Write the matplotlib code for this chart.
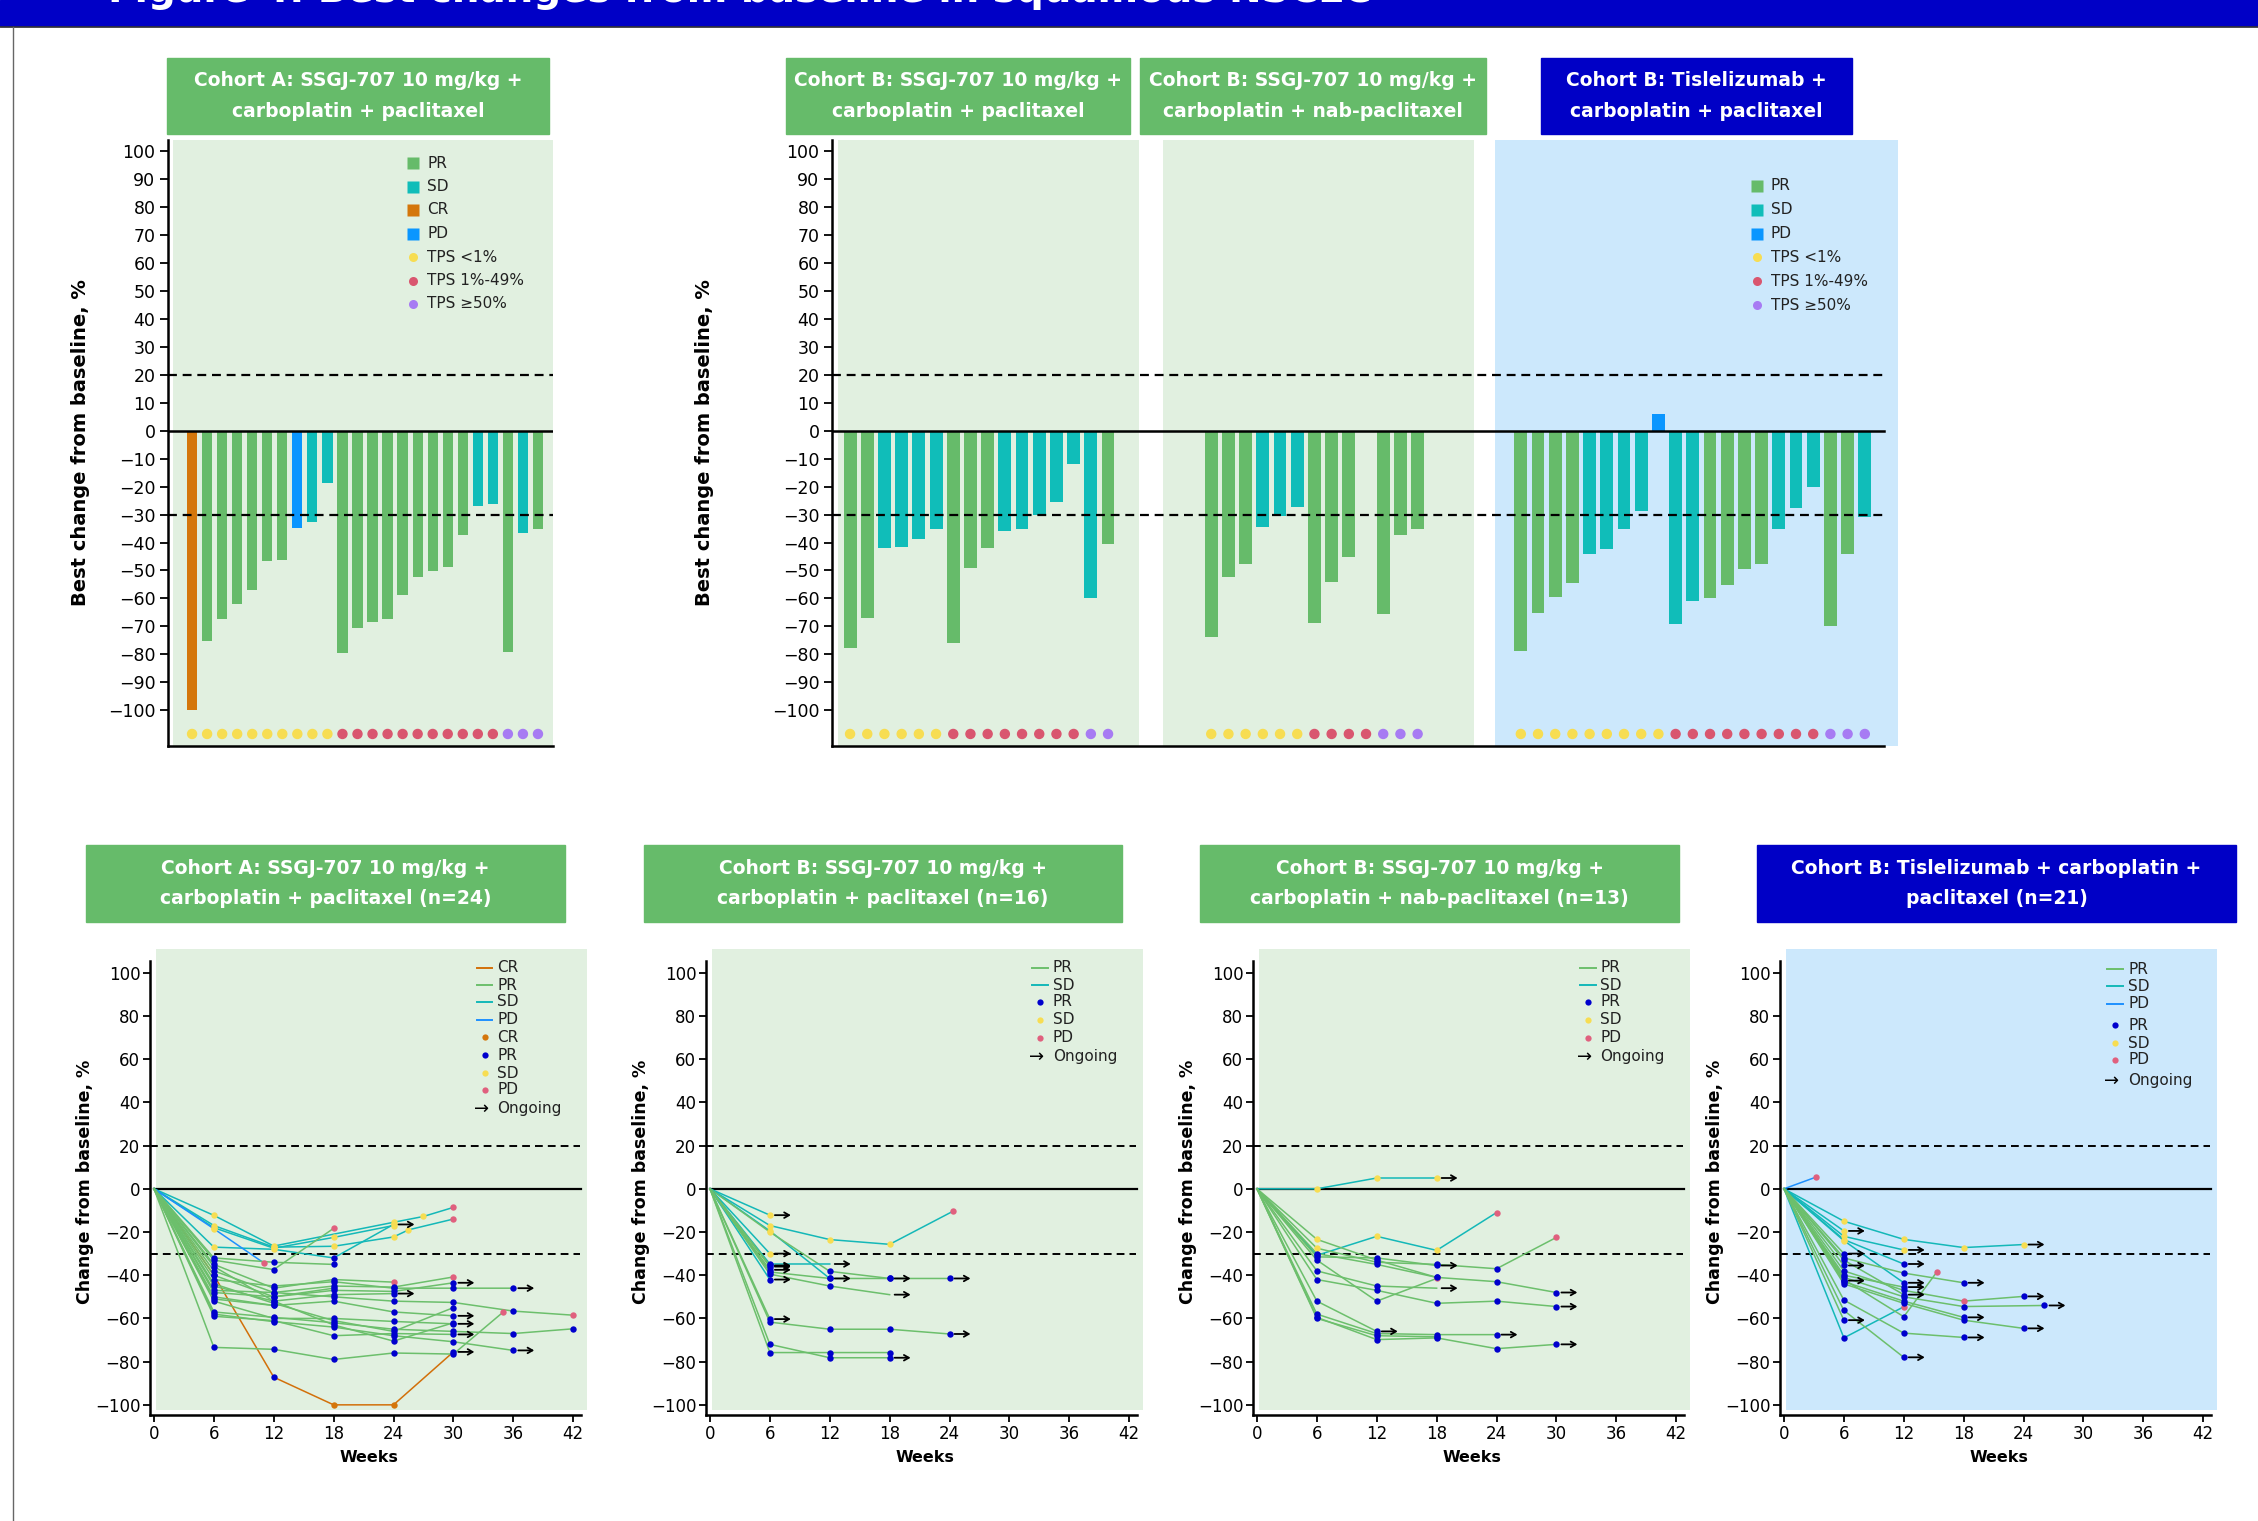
import numpy as np
import matplotlib
matplotlib.use("Agg")
import matplotlib.pyplot as plt
from matplotlib.patches import Rectangle
from matplotlib.lines import Line2D

# ---------------- data ----------------
# waterfall, cohort A
a_resp = ["CR", "PR", "PR", "PR", "PR", "PR", "PR", "PD", "SD", "SD", "PR", "PR",
          "PR", "PR", "PR", "PR", "PR", "PR", "PR", "SD", "SD", "PR", "SD", "PR"]
a_vals = [-100, -75.2, -67.4, -62, -56.8, -46.6, -46.2, -34.7, -32.6, -18.6, -79.5, -70.7,
          -68.5, -67.4, -58.7, -52.3, -50.1, -48.8, -37.3, -26.9, -26.4, -79.2, -36.5, -35.2]
a_tps = ["<1"] * 10 + ["1-49"] * 11 + [">=50"] * 3

# waterfall, cohort B SSGJ-707 + carboplatin + paclitaxel
bp_resp = ["PR", "PR", "SD", "SD", "SD", "SD", "PR", "PR", "PR", "SD", "SD", "SD",
           "SD", "SD", "SD", "PR"]
bp_vals = [-77.8, -67.1, -41.8, -41.5, -38.6, -35.1, -75.8, -49, -41.8, -36, -35.1, -30,
           -25.7, -12.1, -60, -40.7]
bp_tps = ["<1"] * 6 + ["1-49"] * 8 + [">=50"] * 2

# waterfall, cohort B SSGJ-707 + carboplatin + nab-paclitaxel (10th patient: no bar)
bn_resp = ["PR", "PR", "PR", "SD", "SD", "SD", "PR", "PR", "PR", "", "PR", "PR", "PR"]
bn_vals = [-73.8, -52.2, -47.8, -34.3, -30.6, -27.4, -68.6, -54.2, -45.3, np.nan,
           -65.6, -37.2, -35.1]
bn_tps = ["<1"] * 6 + ["1-49"] * 4 + [">=50"] * 3

# waterfall, cohort B tislelizumab + carboplatin + paclitaxel
t_resp = ["PR", "PR", "PR", "PR", "SD", "SD", "SD", "SD", "PD", "SD", "SD", "PR",
          "PR", "PR", "PR", "SD", "SD", "SD", "PR", "PR", "SD"]
t_vals = [-78.7, -65.3, -59.5, -54.5, -44, -42.3, -35, -28.9, 6, -69, -61, -60,
          -55.2, -49.5, -47.6, -35, -27.7, -20.2, -69.7, -44, -31]
t_tps = ["<1"] * 9 + ["1-49"] * 9 + [">=50"] * 3

# spider data: (best response, weeks, % change, assessment per point, ongoing)
# assessment codes: P=PR, S=SD, D=PD, C=CR, -=no marker
spider_a = [
    ("SD", [6, 12, 24, 27, 30], [-12.3, -26.5, -15.5, -12.8, -8.6], "SSSSD", False),
    ("SD", [6, 12, 18, 24, 25.5, 30], [-17, -27, -26.6, -22.3, -19, -14], "SSSSSD", False),
    ("SD", [6, 12, 18, 24], [-27, -28, -32, -16.5], "SSPS", True),
    ("SD", [6, 12, 18, 24], [-18, -27.5, -22.5, -17], "SSSS", False),
    ("PD", [6, 11], [-18.5, -34.3], "SD", False),
    ("CR", [6, 12, 18, 24, 30], [-40, -87.2, -100, -100, -75.5], "PPCCP", True),
    ("PR", [6, 12, 18, 24, 30, 35], [-73.4, -74.3, -79, -76, -76.5, -57], "PPPPPD", False),
    ("PR", [6, 12, 18], [-33, -37.4, -18.3], "PPD", False),
    ("PR", [6, 12, 18], [-32, -34, -35], "PPP", False),
    ("PR", [6, 12, 18, 24], [-35, -46, -42, -43.2], "PPPD", False),
    ("PR", [6, 12, 18, 24, 30], [-38, -48, -45, -45.5, -40.8], "PPPPD", False),
    ("PR", [6, 12, 18, 24, 30], [-40, -50, -47, -47.5, -43.5], "PPPPP", True),
    ("PR", [6, 12, 18, 24, 30, 36], [-42, -45, -43, -46, -46, -46], "PPPPPP", True),
    ("PR", [6, 12, 18, 24], [-45, -52, -49, -48.5], "PPPP", True),
    ("PR", [6, 12, 18, 24, 30, 36, 42], [-47, -48, -50, -52, -52.6, -56.6, -58.5], "PPPPPPD", False),
    ("PR", [6, 12, 18, 24, 30], [-50, -54, -52, -57, -58.8], "PPPPP", True),
    ("PR", [6, 12, 18, 24, 30], [-52, -60, -60, -61.4, -62.5], "PPPPP", True),
    ("PR", [6, 12, 18, 24, 30, 36, 42], [-57, -59.5, -62, -65, -66, -67, -64.8], "PPPPPPP", True),
    ("PR", [6, 12, 18, 24, 30, 36], [-58, -61.5, -64, -68, -70.8, -74.8], "PPPPPP", True),
    ("PR", [6, 12, 18, 24, 30], [-59, -61, -68, -67, -67.4], "PPPPP", True),
    ("PR", [6, 12, 18, 24, 30], [-36, -52, -63, -70.5, -62], "PPPPP", False),
    ("PR", [6, 12, 18, 24, 30], [-44, -53, -61, -66, -55], "PPPPP", False),
    ("PR", [6, 12, 18], [-48, -50, -46], "PPP", False),
    ("PR", [6, 12], [-51, -54], "PP", False),
]

spider_bp = [
    ("SD", [6], [-12.2], "S", True),
    ("SD", [6, 12, 18, 24.3], [-17, -23.5, -25.7, -10.5], "SSSD", False),
    ("SD", [6, 12], [-19.5, -41.5], "SP", True),
    ("PR", [6, 12, 18], [-20, -38.2, -41.5], "SPP", True),
    ("SD", [6], [-30], "S", True),
    ("SD", [6, 12], [-34.8, -34.8], "P-", True),
    ("PR", [6], [-36], "P", True),
    ("PR", [6], [-37.5], "P", True),
    ("SD", [6], [-42], "P", True),
    ("PR", [6, 12, 18, 24], [-38.5, -41.5, -41.5, -41.5], "PPPP", True),
    ("PR", [6, 12, 18], [-39.5, -45, -49], "PP-", True),
    ("PR", [6], [-60.3], "P", True),
    ("PR", [6, 12, 18, 24], [-61.7, -65, -65, -67.2], "PPPP", True),
    ("PR", [6, 12, 18], [-72, -78.2, -78.2], "PPP", True),
    ("PR", [6, 12, 18], [-75.8, -75.8, -75.8], "PPP", False),
    ("PR", [6], [-35.5], "P", True),
]

spider_bn = [
    ("SD", [6, 12, 18], [0, 5, 5], "SSS", True),
    ("SD", [6, 12, 18, 24], [-30.8, -22, -28.5, -11], "PSSD", False),
    ("PR", [6, 12, 18], [-23.4, -33, -41], "SPP", False),
    ("PR", [6, 12, 18, 24, 30], [-27.5, -34, -35, -37, -22.5], "SPPPD", False),
    ("PR", [6, 12, 18], [-31.5, -32, -35.5], "PPP", True),
    ("PR", [6, 12, 18], [-33, -52, -41.5], "PPD", False),
    ("PR", [6, 12, 18], [-38, -45, -46], "PP-", True),
    ("PR", [6, 12, 18, 24, 30], [-42, -47, -53, -52, -54.5], "PPPPP", True),
    ("PR", [6, 12, 18, 24, 30], [-30, -35, -41, -43, -48], "PPPPP", True),
    ("PR", [6, 12], [-52, -66], "PP", True),
    ("PR", [6, 12, 18, 24], [-58, -67, -67.5, -67.5], "PPPP", True),
    ("PR", [6, 12, 18, 24, 30], [-59.5, -69.8, -69, -74, -72], "PPPPP", True),
    ("PR", [6, 12, 18], [-60, -68, -68.5], "PPP", False),
]

spider_t = [
    ("PD", [3.2], [5.4], "D", False),
    ("SD", [6, 12, 18, 24], [-15, -23.4, -27.2, -25.8], "SSSS", True),
    ("SD", [6], [-19.5], "S", True),
    ("SD", [6, 12], [-22, -28.3], "SS", True),
    ("SD", [6, 12], [-23.5, -34.8], "SP", True),
    ("SD", [6, 12], [-69, -54.6], "PD", False),
    ("SD", [6, 12], [-24, -43.5], "SP", True),
    ("PR", [6], [-30], "P", True),
    ("PR", [6, 12, 18], [-32, -39, -43.5], "PPP", True),
    ("PR", [6], [-35.5], "P", True),
    ("PR", [6, 12, 18, 24], [-38, -47, -52, -49.8], "PPDP", True),
    ("PR", [6], [-42.5], "P", True),
    ("PR", [6, 12], [-40, -45.5], "PP", True),
    ("PR", [6, 12, 18, 26.1], [-41, -50, -54.5, -54], "PPPP", True),
    ("PR", [6, 12, 18], [-43, -52, -59.5], "PPP", True),
    ("PR", [6, 12, 18, 24], [-44, -53, -60.8, -64.6], "PPPP", True),
    ("PR", [6, 12, 18], [-51.5, -66.8, -68.8], "PPP", True),
    ("PR", [6, 12], [-56.3, -78], "PP", True),
    ("PR", [6], [-60.8], "P", True),
    ("PR", [6, 12, 15.3], [-42, -59.2, -38.6], "PPD", False),
    ("PR", [6, 12], [-33, -49], "PP", True),
]

# ---------------- style ----------------
bar_col = {"PR": "#66BB6A", "SD": "#10BDB9", "PD": "#0A96FF", "CR": "#D4760B"}
tps_col = {"<1": "#F7DD52", "1-49": "#D9566F", ">=50": "#A77BF3"}
line_col = {"PR": "#6CBF6C", "SD": "#14B8B8", "PD": "#1E90FF", "CR": "#D2700A"}
dot_col = {"P": "#0000CD", "S": "#F7DD52", "D": "#E0607E", "C": "#D4760B"}
GREEN = "#66BB6A"
NAVY = "#0000C6"
BG_G = "#E1F0E0"
BG_B = "#CCE8FC"

W, H = 2258, 1521
fig = plt.figure(figsize=(W / 100, H / 100), dpi=100)
fig.patch.set_facecolor("white")


def fx(px):
    return px / W


def fy(py):
    return 1 - py / H


def add_ax(l, t, r, b):
    return fig.add_axes([fx(l), fy(b), (r - l) / W, (b - t) / H])


def header(l, t, r, b, text, color, fs, family="DejaVu Sans", ls=1.75):
    fig.add_artist(Rectangle((fx(l), fy(b)), (r - l) / W, (b - t) / H,
                             transform=fig.transFigure, color=color, zorder=1))
    fig.text(fx((l + r) / 2), fy((t + b) / 2), text, ha="center", va="center",
             color="white", fontsize=fs, fontweight="bold", family=family,
             linespacing=ls, zorder=2)


def legend_top(items, x_mark, x_text, y0, dy, fs=11):
    for i, (kind, color, label) in enumerate(items):
        y = y0 + i * dy
        m = "s" if kind == "sq" else "o"
        fig.add_artist(Line2D([fx(x_mark)], [fy(y)], marker=m, ms=8 if m == "s" else 6.5,
                              color=color, mec="none", ls="", transform=fig.transFigure))
        fig.text(fx(x_text), fy(y), label, fontsize=fs, va="center", ha="left", color="#222222")


def legend_spider(items, x1, x2, x_text, ys, fs=11):
    for (kind, color, label), y in zip(items, ys):
        if kind == "line":
            fig.add_artist(Line2D([fx(x1), fx(x2)], [fy(y), fy(y)], color=color, lw=1.4,
                                  transform=fig.transFigure))
        elif kind == "dot":
            fig.add_artist(Line2D([fx((x1 + x2) / 2)], [fy(y)], marker="o", ms=4.5, color=color,
                                  mec="none", ls="", transform=fig.transFigure))
        else:
            fig.text(fx(x1 - 3), fy(y), "\u2192", fontsize=fs + 2, va="center", ha="left",
                     color="black")
        fig.text(fx(x_text), fy(y), label, fontsize=fs, va="center", ha="left", color="#222222")


# ---------------- banner ----------------
fig.add_artist(Rectangle((0, fy(26)), 1, 26 / H, transform=fig.transFigure, color=NAVY, zorder=1))
fig.add_artist(Line2D([0, 1], [fy(26.5), fy(26.5)], color="#333333", lw=1.2, transform=fig.transFigure))
fig.add_artist(Line2D([fx(13), fx(13)], [fy(27), 0], color="#666666", lw=1.0, transform=fig.transFigure))
fig.text(fx(108), fy(2), "Figure 4. Best changes from baseline in squamous NSCLC", color="white",
         fontsize=28, fontweight="bold", va="baseline", ha="left", zorder=3)

# ---------------- waterfall panels ----------------
YMIN_T, YMAX_T, DOT_Y = -112.7, 103.8, -108.4


def style_top(ax, xl, xr, line_end):
    ax.set_facecolor("none")
    ax.set_xlim(xl, xr)
    ax.set_ylim(YMIN_T, YMAX_T)
    for s in ["top", "right"]:
        ax.spines[s].set_visible(False)
    ax.spines["left"].set_linewidth(1.8)
    ax.spines["bottom"].set_linewidth(1.8)
    ax.spines["bottom"].set_bounds(xl, line_end)
    ax.set_xticks([])
    ax.set_yticks(np.arange(-100, 101, 10))
    ax.tick_params(axis="y", length=6, width=1.3, labelsize=12.5, pad=3)
    ax.plot([xl, line_end], [0, 0], color="black", lw=1.8, zorder=3)
    for yv in (20, -30):
        ax.plot([xl, line_end], [yv, yv], color="black", lw=1.6, ls=(0, (4, 2.6)), zorder=3)


# cohort A
axA = add_ax(168, 140, 553, 746)
xa = np.arange(len(a_vals))
style_top(axA, -1.6, 24.0, 24.0)
axA.axvspan(-1.26, 24.0, color=BG_G, zorder=0, lw=0)
axA.bar(xa, a_vals, width=0.68, color=[bar_col[r] for r in a_resp], zorder=2)
axA.scatter(xa, [DOT_Y] * len(xa), s=42, c=[tps_col[t] for t in a_tps], zorder=4, clip_on=False)
axA.set_ylabel("Best change from baseline, %", fontsize=14, fontweight="bold")
axA.yaxis.set_label_coords((90 - 168) / 385, 0.5)

legend_top([("sq", bar_col["PR"], "PR"), ("sq", bar_col["SD"], "SD"), ("sq", bar_col["CR"], "CR"),
            ("sq", bar_col["PD"], "PD"), ("o", tps_col["<1"], "TPS <1%"),
            ("o", tps_col["1-49"], "TPS 1%-49%"), ("o", tps_col[">=50"], "TPS \u226550%")],
           413, 427, 163, 23.5)

# cohort B (three groups on one axis)
axB = add_ax(832, 140, 1898, 746)
xbp = np.arange(len(bp_vals))
xbn = 21 + np.arange(len(bn_vals))
xt = 39 + np.arange(len(t_vals))
style_top(axB, -1.05, 60.93, 60.1)
axB.axvspan(-0.70, 16.8, color=BG_G, zorder=0, lw=0)
axB.axvspan(18.2, 36.3, color=BG_G, zorder=0, lw=0)
axB.axvspan(37.5, 60.93, color=BG_B, zorder=0, lw=0)
for xs, vals, resp, tps in [(xbp, bp_vals, bp_resp, bp_tps), (xbn, bn_vals, bn_resp, bn_tps),
                            (xt, t_vals, t_resp, t_tps)]:
    keep = [i for i, r in enumerate(resp) if r]
    axB.bar(xs[keep], np.array(vals)[keep], width=0.75,
            color=[bar_col[resp[i]] for i in keep], zorder=2)
    axB.scatter(xs, [DOT_Y] * len(xs), s=42, c=[tps_col[t] for t in tps], zorder=4, clip_on=False)
axB.set_ylabel("Best change from baseline, %", fontsize=14, fontweight="bold")
axB.yaxis.set_label_coords((714 - 832) / 1066, 0.5)

legend_top([("sq", bar_col["PR"], "PR"), ("sq", bar_col["SD"], "SD"), ("sq", bar_col["PD"], "PD"),
            ("o", tps_col["<1"], "TPS <1%"), ("o", tps_col["1-49"], "TPS 1%-49%"),
            ("o", tps_col[">=50"], "TPS \u226550%")],
           1757, 1771, 186, 23.8)

# top headers
header(167, 58, 549, 134, "Cohort A: SSGJ-707 10 mg/kg +\ncarboplatin + paclitaxel", GREEN, 13.5)
header(786, 58, 1130, 134, "Cohort B: SSGJ-707 10 mg/kg +\ncarboplatin + paclitaxel", GREEN, 13.5,
       family=["Liberation Sans Narrow", "DejaVu Sans"])
header(1140, 58, 1486, 134, "Cohort B: SSGJ-707 10 mg/kg +\ncarboplatin + nab-paclitaxel", GREEN, 13.5,
       family=["Liberation Sans Narrow", "DejaVu Sans"])
header(1541, 58, 1852, 134, "Cohort B: Tislelizumab +\ncarboplatin + paclitaxel", NAVY, 13.5)

# ---------------- spider panels ----------------
PXW = 9.98  # px per week
spiders = [
    (154, spider_a, BG_G, GREEN, "Cohort A: SSGJ-707 10 mg/kg +\ncarboplatin + paclitaxel (n=24)", (86, 565)),
    (710, spider_bp, BG_G, GREEN, "Cohort B: SSGJ-707 10 mg/kg +\ncarboplatin + paclitaxel (n=16)", (644, 1122)),
    (1257, spider_bn, BG_G, GREEN, "Cohort B: SSGJ-707 10 mg/kg +\ncarboplatin + nab-paclitaxel (n=13)", (1200, 1679)),
    (1784, spider_t, BG_B, NAVY, "Cohort B: Tislelizumab + carboplatin +\npaclitaxel (n=21)", (1757, 2236)),
]

for x0, data, bg, hcol, title, (hl, hr) in spiders:
    ax = add_ax(x0 - 0.4 * PXW, 949, x0 + 43.4 * PXW, 1415)
    ax.set_facecolor("none")
    ax.set_xlim(-0.4, 43.4)
    ax.set_ylim(-104.7, 111)
    ax.add_patch(Rectangle((0.2, -102.5), 43.2, 213.5, color=bg, lw=0, zorder=0))
    for s in ["top", "right"]:
        ax.spines[s].set_visible(False)
    ax.spines["left"].set_linewidth(1.8)
    ax.spines["bottom"].set_linewidth(1.8)
    ax.spines["left"].set_bounds(-104.7, 105.5)
    ax.spines["bottom"].set_bounds(-0.4, 42.8)
    ax.set_xticks(np.arange(0, 43, 6))
    ax.set_yticks(np.arange(-100, 101, 20))
    ax.tick_params(length=5, width=1.3, labelsize=12, pad=2)
    ax.plot([0, 42.8], [0, 0], color="black", lw=1.6, zorder=3)
    for yv in (20, -30):
        ax.plot([-0.4, 42.7], [yv, yv], color="black", lw=1.4, ls=(0, (4, 2.6)), zorder=3)
    for resp, wk, vals, marks, ongoing in data:
        ax.plot([0] + wk, [0] + vals, color=line_col[resp], lw=1.1, zorder=4)
        for w, v, m in zip(wk, vals, marks):
            if m != "-":
                ax.plot(w, v, "o", ms=4.6, color=dot_col[m], mec="none", zorder=6)
        if ongoing:
            ax.annotate("", xy=(wk[-1] + 2.1, vals[-1]), xytext=(wk[-1] + 0.5, vals[-1]),
                        arrowprops=dict(arrowstyle="->,head_length=0.35,head_width=0.2",
                                        lw=1.3, color="black", shrinkA=0, shrinkB=0), zorder=7)
    ax.set_xlabel("Weeks", fontsize=11.5, fontweight="bold", labelpad=0)
    ax.xaxis.set_label_coords(0.5, -(1450 - 1415) / 466)
    ax.set_ylabel("Change from baseline, %", fontsize=12.5, fontweight="bold")
    ax.yaxis.set_label_coords(-(x0 - 0.4 * PXW - (x0 - 60)) / (43.8 * PXW), 0.5)
    header(hl, 845, hr, 922, title, hcol, 13.5)

# spider legends
rows9 = [968, 985, 1002, 1020, 1037, 1055, 1073, 1090, 1109]
legend_spider([("line", line_col["CR"], "CR"), ("line", line_col["PR"], "PR"),
               ("line", line_col["SD"], "SD"), ("line", line_col["PD"], "PD"),
               ("dot", dot_col["C"], "CR"), ("dot", dot_col["P"], "PR"),
               ("dot", dot_col["S"], "SD"), ("dot", dot_col["D"], "PD"),
               ("arrow", "black", "Ongoing")], 477, 492, 497, rows9)
rows6 = [968, 985, 1002, 1020, 1038, 1057]
items6 = [("line", line_col["PR"], "PR"), ("line", line_col["SD"], "SD"),
          ("dot", dot_col["P"], "PR"), ("dot", dot_col["S"], "SD"),
          ("dot", dot_col["D"], "PD"), ("arrow", "black", "Ongoing")]
legend_spider(items6, 1032, 1048, 1053, rows6)
legend_spider(items6, 1580, 1596, 1600, rows6)
rows7 = [969, 986, 1004, 1025, 1043, 1060, 1081]
legend_spider([("line", line_col["PR"], "PR"), ("line", line_col["SD"], "SD"),
               ("line", line_col["PD"], "PD"), ("dot", dot_col["P"], "PR"),
               ("dot", dot_col["S"], "SD"), ("dot", dot_col["D"], "PD"),
               ("arrow", "black", "Ongoing")], 2107, 2123, 2128, rows7)

fig.savefig("out.png", dpi=100)
